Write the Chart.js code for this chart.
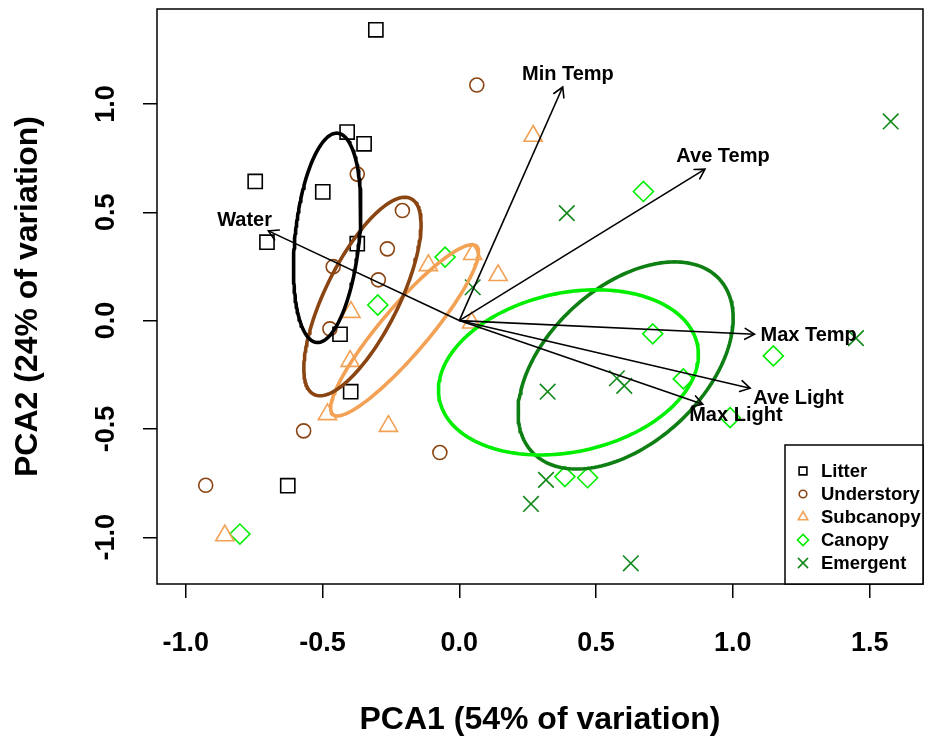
<!DOCTYPE html>
<html><head><meta charset="utf-8">
<script src="https://cdn.jsdelivr.net/npm/chart.js@4.4.1/dist/chart.umd.min.js"></script>
<style>html,body{margin:0;padding:0;background:#fff;} #wrap{width:927px;height:740px;}</style>
</head><body><div id="wrap"><canvas id="c" width="927" height="740"></canvas></div>
<script>
// ---------- data ----------
const groups = ['Litter', 'Understory', 'Subcanopy', 'Canopy', 'Emergent'];

const litterX = [-0.305, -0.410, -0.348, -0.746, -0.499, -0.703, -0.373, -0.436, -0.397, -0.627];
const litterY = [1.342, 0.870, 0.816, 0.642, 0.594, 0.362, 0.355, -0.063, -0.328, -0.762];
const understoryX = [0.064, -0.373, -0.208, -0.263, -0.461, -0.296, -0.473, -0.569, -0.071, -0.927];
const understoryY = [1.087, 0.676, 0.508, 0.331, 0.249, 0.188, -0.038, -0.509, -0.609, -0.760];
const subcanopyX = [0.270, 0.049, -0.113, 0.142, -0.396, -0.399, -0.482, -0.259, -0.857, 0.045];
const subcanopyY = [0.852, 0.306, 0.255, 0.209, 0.039, -0.187, -0.433, -0.487, -0.992, -0.010];
const canopyX = [0.673, -0.052, -0.298, 0.707, 1.148, 0.819, 0.990, 0.386, 0.469, -0.802];
const canopyY = [0.596, 0.293, 0.072, -0.061, -0.163, -0.269, -0.448, -0.720, -0.725, -0.985];
const emergentX = [1.577, 0.393, 0.049, 1.450, 0.323, 0.576, 0.603, 0.317, 0.262, 0.627];
const emergentY = [0.919, 0.496, 0.154, -0.081, -0.328, -0.266, -0.301, -0.735, -0.846, -1.120];

// group ellipses (data units): centre, top conjugate semi-diameter (ux, uy), horizontal conjugate semi-diameter vx
const ellipseCX = [-0.483, -0.354, -0.200, 0.399, 0.608];
const ellipseCY = [0.382, 0.111, -0.045, -0.239, -0.207];
const ellipseUX = [0.035, 0.155, 0.246, 0.102, 0.179];
const ellipseUY = [0.483, 0.458, 0.395, 0.381, 0.478];
const ellipseVX = [0.118, 0.148, 0.112, 0.464, 0.350];

// environmental loading vectors
const arrowNames = ['Min Temp', 'Ave Temp', 'Max Temp', 'Ave Light', 'Max Light', 'Water'];
const arrowX = [0.378, 0.898, 1.079, 1.063, 0.890, -0.698];
const arrowY = [1.078, 0.699, -0.063, -0.312, -0.386, 0.414];
const labelX = [0.397, 0.964, 1.277, 1.240, 1.011, -0.785];
const labelY = [1.138, 0.757, -0.069, -0.361, -0.439, 0.462];

const xTicks = [-1.0, -0.5, 0.0, 0.5, 1.0, 1.5];
const xTickLabels = ['-1.0', '-0.5', '0.0', '0.5', '1.0', '1.5'];
const yTicks = [-1.0, -0.5, 0.0, 0.5, 1.0];
const yTickLabels = ['-1.0', '-0.5', '0.0', '0.5', '1.0'];

// ---------- styles ----------
const FONT = '"Liberation Sans", Arial, Helvetica, sans-serif';
const colors = ['#000000', '#8B4513', '#F2A155', '#00EE00', '#12891B'];
const ellipseColors = ['#000000', '#8B4513', '#F2A155', '#00EE00', '#0E7F12'];
const styles = ['rect', 'circle', 'triangle', 'rectRot', 'crossRot'];
const radii = [10, 7, 10.5, 10, 11];
const legendRadii = [5.5, 3.8, 5.5, 5.5, 6.5];

const xs = [litterX, understoryX, subcanopyX, canopyX, emergentX];
const ys = [litterY, understoryY, subcanopyY, canopyY, emergentY];

const datasets = [];
arrowNames.forEach((n, i) => {
  datasets.push({
    label: n, showLine: true, order: 0,
    data: [{x: 0, y: 0}, {x: arrowX[i], y: arrowY[i]}],
    borderColor: '#000', borderWidth: 1.6, pointRadius: 0, fill: false
  });
});
groups.forEach((g, k) => {
  const pts = [];
  const N = 180;
  for (let j = 0; j <= N; j++) {
    const t = 2 * Math.PI * j / N;
    pts.push({
      x: ellipseCX[k] + ellipseUX[k] * Math.cos(t) + ellipseVX[k] * Math.sin(t),
      y: ellipseCY[k] + ellipseUY[k] * Math.cos(t)
    });
  }
  datasets.push({
    label: g + ' ellipse', showLine: true, order: 1, data: pts,
    borderColor: ellipseColors[k], borderWidth: 3.6, pointRadius: 0, tension: 0, fill: false,
    borderJoinStyle: 'round', borderCapStyle: 'round'
  });
});
groups.forEach((g, k) => {
  datasets.push({
    label: g, order: 2,
    data: xs[k].map((v, i) => ({x: v, y: ys[k][i]})),
    pointStyle: styles[k], pointRadius: radii[k],
    pointBorderColor: colors[k], pointBackgroundColor: 'rgba(0,0,0,0)',
    pointBorderWidth: 1.6, showLine: false
  });
});

const overlay = {
  id: 'overlay',
  afterDraw(chart) {
    const {ctx, chartArea: a, scales: {x, y}} = chart;
    ctx.save();
    ctx.strokeStyle = '#000'; ctx.lineWidth = 1.6; ctx.lineCap = 'round';
    const x0 = x.getPixelForValue(0), y0 = y.getPixelForValue(0);
    arrowNames.forEach((n, i) => {
      const px = x.getPixelForValue(arrowX[i]), py = y.getPixelForValue(arrowY[i]);
      const ang = Math.atan2(py - y0, px - x0);
      const L = 11, h = Math.PI / 6;
      ctx.beginPath();
      ctx.moveTo(px - L * Math.cos(ang - h), py - L * Math.sin(ang - h));
      ctx.lineTo(px, py);
      ctx.lineTo(px - L * Math.cos(ang + h), py - L * Math.sin(ang + h));
      ctx.stroke();
    });
    ctx.fillStyle = '#000';
    ctx.font = 'bold 20px ' + FONT;
    ctx.textAlign = 'center'; ctx.textBaseline = 'middle';
    arrowNames.forEach((n, i) => {
      ctx.fillText(n, x.getPixelForValue(labelX[i]), y.getPixelForValue(labelY[i]));
    });
    ctx.lineWidth = 1.5; ctx.strokeStyle = '#000';
    ctx.strokeRect(a.left, a.top, a.right - a.left, a.bottom - a.top);
    const lw = 138, lh = 139;
    const lx = a.right - lw, ly = a.bottom - lh;
    ctx.fillStyle = '#fff';
    ctx.fillRect(lx, ly, lw, lh);
    ctx.strokeRect(lx, ly, lw, lh);
    ctx.font = 'bold 18.5px ' + FONT;
    ctx.textAlign = 'left'; ctx.textBaseline = 'middle';
    groups.forEach((g, k) => {
      const cy = ly + 26 + k * 23;
      ctx.strokeStyle = colors[k];
      ctx.fillStyle = 'rgba(0,0,0,0)';
      ctx.lineWidth = 1.6;
      Chart.helpers.drawPoint(ctx, {pointStyle: styles[k], rotation: 0, radius: legendRadii[k], borderWidth: 1.6}, lx + 18, cy);
      ctx.fillStyle = '#000';
      ctx.fillText(g, lx + 36, cy + 1);
    });
    ctx.restore();
  }
};

function noPad(s) { s.paddingTop = 0; s.paddingBottom = 0; s.paddingLeft = 0; s.paddingRight = 0; }

new Chart(document.getElementById('c'), {
  type: 'scatter',
  data: {datasets},
  options: {
    responsive: false, animation: false, devicePixelRatio: 1, events: [],
    layout: {autoPadding: false, padding: {top: 9, right: 4, left: 0, bottom: 0}},
    plugins: {legend: {display: false}, tooltip: {enabled: false}},
    scales: {
      x: {
        type: 'linear', position: 'bottom', min: -1.105, max: 1.695,
        afterBuildTicks: s => { s.ticks = xTicks.map(v => ({value: v})); },
        afterFit: s => { s.height = 156; noPad(s); },
        ticks: {callback: (v, i) => xTickLabels[i], font: {family: FONT, size: 27, weight: 'bold'}, color: '#000', padding: 29, maxRotation: 0, autoSkip: false},
        grid: {drawOnChartArea: false, drawTicks: true, tickLength: 14, color: '#000', lineWidth: 1.5},
        border: {display: false},
        title: {display: true, text: 'PCA1 (54% of variation)', font: {family: FONT, size: 32, weight: 'bold'}, color: '#000', padding: {top: 0, bottom: 1}}
      },
      y: {
        type: 'linear', position: 'left', min: -1.2156, max: 1.438,
        afterBuildTicks: s => { s.ticks = yTicks.map(v => ({value: v})); },
        afterFit: s => { s.width = 157; noPad(s); },
        ticks: {callback: (v, i) => yTickLabels[i], font: {family: FONT, size: 27, weight: 'bold'}, color: '#000', padding: 13, minRotation: 90, maxRotation: 90, crossAlign: 'center', autoSkip: false},
        grid: {drawOnChartArea: false, drawTicks: true, tickLength: 14, color: '#000', lineWidth: 1.5},
        border: {display: false},
        title: {display: true, text: 'PCA2 (24% of variation)', font: {family: FONT, size: 32, weight: 'bold'}, color: '#000', padding: {top: 9, bottom: 0}}
      }
    }
  },
  plugins: [overlay]
});
</script></body></html>
